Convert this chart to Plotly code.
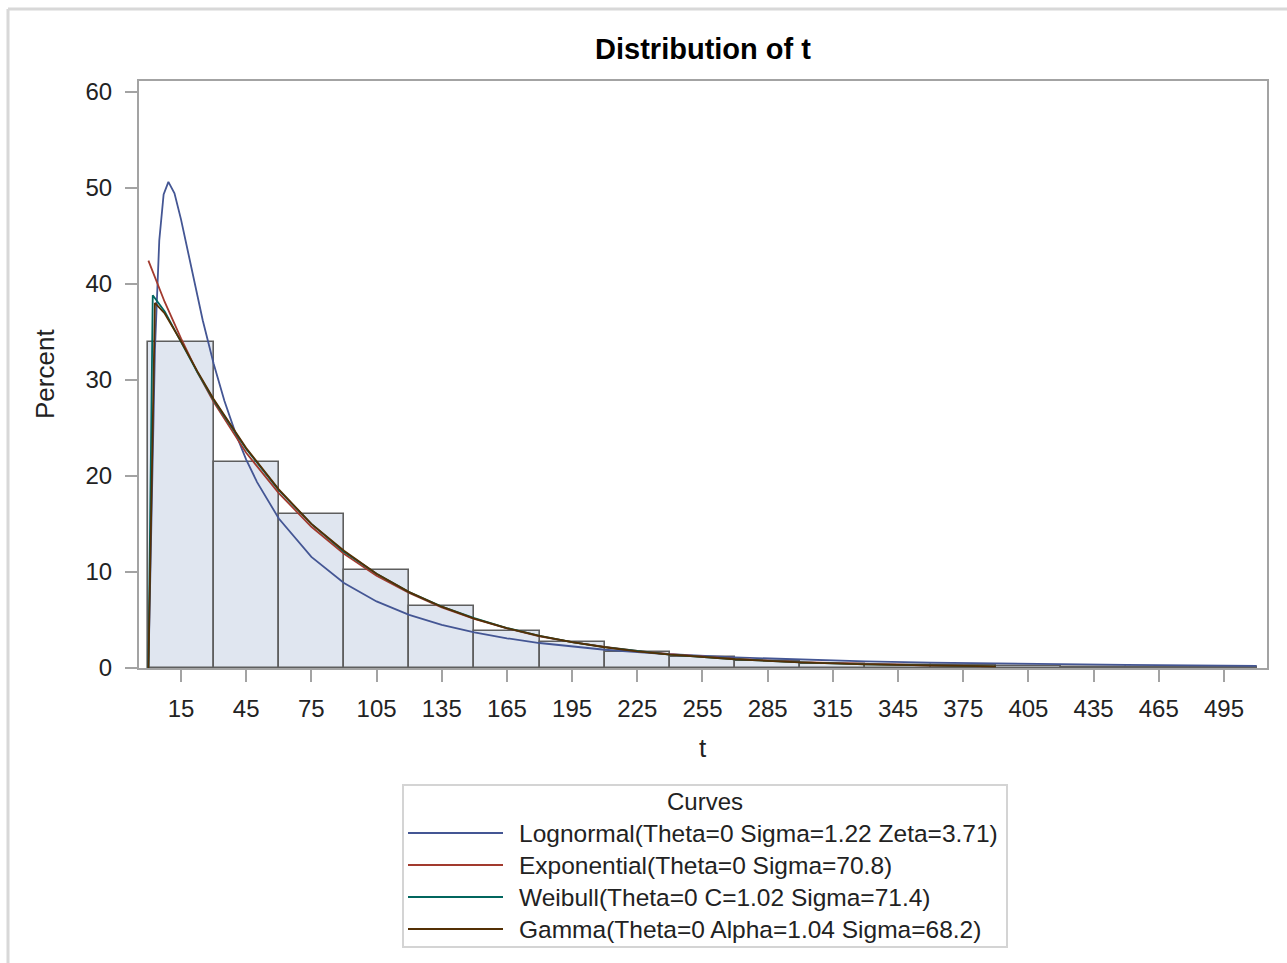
import plotly.graph_objects as go

# ---------------- data ----------------
bin_mid = [15, 45, 75, 105, 135, 165, 195, 225, 255, 285, 315, 345, 375, 405, 435, 465, 495]
bin_pct = [33.9, 21.4, 16.0, 10.2, 6.5, 3.8, 2.7, 1.66, 1.14, 0.76, 0.42, 0.35, 0.30, 0.25, 0.15, 0.10, 0.10]

logn_t = [0, 3, 5, 7, 9.2, 12, 15, 20, 25, 30, 35, 40, 45, 50, 60, 75, 90, 105, 120, 135, 150, 165, 180,
          210, 240, 270, 300, 330, 360, 390, 420, 450, 480, 510]
logn_pct = [0, 33.1, 44.5, 49.3, 50.6, 49.4, 46.7, 41.3, 36.2, 31.7, 27.8, 24.5, 21.7, 19.35, 15.56, 11.56,
            8.84, 6.93, 5.54, 4.50, 3.70, 3.09, 2.60, 1.90, 1.43, 1.10, 0.86, 0.69, 0.56, 0.46, 0.38, 0.32,
            0.27, 0.23]

expo_t = [0, 7.5, 15, 22.5, 30, 45, 60, 75, 90, 105, 120, 135, 150, 165, 180, 195, 210, 225, 240, 270,
          300, 330, 360, 390]
expo_pct = [42.4, 38.1, 34.3, 30.8, 27.7, 22.4, 18.2, 14.7, 11.9, 9.6, 7.8, 6.30, 5.1, 4.12, 3.3, 2.70,
            2.2, 1.77, 1.43, 0.94, 0.61, 0.40, 0.26, 0.17]

weib_t = [0, 2, 7.5, 15, 22.5, 30, 45, 60, 75, 90, 105, 120, 135, 150, 165, 180, 195, 210, 225, 240, 270,
          300, 330, 360, 390]
weib_pct = [0, 38.8, 37.1, 33.9, 30.8, 27.9, 22.8, 18.5, 15.0, 12.1, 9.8, 7.9, 6.39, 5.2, 4.16, 3.35,
            2.69, 2.17, 1.75, 1.40, 0.91, 0.58, 0.38, 0.24, 0.16]

gamm_t = [0, 3, 7.5, 15, 22.5, 30, 45, 60, 75, 90, 105, 120, 135, 150, 165, 180, 195, 210, 225, 240, 270,
          300, 330, 360, 390]
gamm_pct = [0, 38.0, 36.9, 34.0, 30.9, 28.0, 22.9, 18.6, 15.0, 12.2, 9.8, 7.9, 6.38, 5.15, 4.15, 3.34,
            2.69, 2.16, 1.74, 1.40, 0.91, 0.59, 0.38, 0.25, 0.16]

curve_names = ["Lognormal(Theta=0 Sigma=1.22 Zeta=3.71)",
               "Exponential(Theta=0 Sigma=70.8)",
               "Weibull(Theta=0 C=1.02 Sigma=71.4)",
               "Gamma(Theta=0 Alpha=1.04 Sigma=68.2)"]
curve_colors = ["#445694", "#A23A2E", "#01665E", "#543005"]

x_ticks = list(range(15, 496, 30))
y_ticks = [0, 10, 20, 30, 40, 50, 60]

# ---------------- layout geometry (pixels) ----------------
W, H = 1287, 963
L, R, T, B = 139, 1267, 81, 668


def px(x, y):
    return (x - L) / (R - L), (B - y) / (B - T)


FONT = "Arial, Liberation Sans, sans-serif"
AX = "#A3A3A3"

fig = go.Figure()
fig.add_trace(go.Bar(x=bin_mid, y=bin_pct, width=30,
                     marker=dict(color="#E0E6F0", line=dict(color="#5E5E5E", width=1.6)),
                     showlegend=False, hoverinfo="x+y"))

series = [(logn_t, logn_pct), (expo_t, expo_pct), (weib_t, weib_pct), (gamm_t, gamm_pct)]
for (tx, ty), name, col in zip(series, curve_names, curve_colors):
    fig.add_trace(go.Scatter(x=tx, y=ty, mode="lines", name=name,
                             line=dict(color=col, width=1.8), showlegend=False))

shapes = []
annots = []

# outer border
x0, y0 = px(8, 9)
x1, y1 = px(1290, 9)
shapes.append(dict(type="line", xref="paper", yref="paper", x0=x0, y0=y0, x1=x1, y1=y1,
                   line=dict(color="#D8D8D8", width=3)))
x1, y1 = px(8, 970)
shapes.append(dict(type="line", xref="paper", yref="paper", x0=x0, y0=y0, x1=x1, y1=y1,
                   line=dict(color="#D8D8D8", width=3)))

# legend box
bx0, by0 = px(403, 785)
bx1, by1 = px(1007, 947)
shapes.append(dict(type="rect", xref="paper", yref="paper", x0=bx0, y0=by0, x1=bx1, y1=by1,
                   line=dict(color="#D4D4D4", width=2), fillcolor="rgba(0,0,0,0)"))
tx_, ty_ = px(705, 801)
annots.append(dict(text="Curves", x=tx_, y=ty_, xref="paper", yref="paper", showarrow=False,
                   xanchor="center", yanchor="middle", font=dict(family=FONT, size=24, color="#222")))
row_y = [833, 865, 897, 929]
for ry, name, col in zip(row_y, curve_names, curve_colors):
    lx0, ly = px(408, ry)
    lx1, _ = px(503, ry)
    shapes.append(dict(type="line", xref="paper", yref="paper", x0=lx0, y0=ly, x1=lx1, y1=ly,
                       line=dict(color=col, width=2)))
    ax_, ay_ = px(517, ry)
    annots.append(dict(text=name, x=ax_, y=ay_, xref="paper", yref="paper", showarrow=False,
                       xanchor="left", yanchor="middle", font=dict(family=FONT, size=24.5, color="#222")))

# axis titles
ax_, ay_ = px(703, 748)
annots.append(dict(text="t", x=ax_, y=ay_, xref="paper", yref="paper", showarrow=False,
                   xanchor="center", yanchor="middle", font=dict(family=FONT, size=26, color="#222")))
ax_, ay_ = px(45, 374)
annots.append(dict(text="Percent", x=ax_, y=ay_, xref="paper", yref="paper", showarrow=False,
                   textangle=-90, xanchor="center", yanchor="middle",
                   font=dict(family=FONT, size=26, color="#222")))

fig.update_layout(
    width=W, height=H,
    margin=dict(l=L, r=W - R, t=T, b=H - B, pad=0),
    paper_bgcolor="white", plot_bgcolor="white",
    title=dict(text="<b>Distribution of t</b>", x=(L + R) / 2 / W, xanchor="center",
               y=1 - 49 / H, yanchor="middle", yref="container",
               font=dict(family=FONT, size=29, color="#000")),
    shapes=shapes, annotations=annots,
    bargap=0,
)
fig.update_xaxes(range=[-4.33, 514.8], tickvals=x_ticks, ticktext=[str(v) for v in x_ticks],
                 showgrid=False, zeroline=False, showline=True, mirror=True, linecolor=AX, linewidth=2,
                 ticks="outside", ticklen=12, tickwidth=2, tickcolor=AX,
                 tickfont=dict(family=FONT, size=24, color="#222"), ticklabelstandoff=6)
fig.update_yaxes(range=[0, 61.1], tickvals=y_ticks, ticktext=[str(v) for v in y_ticks],
                 showgrid=False, zeroline=False, showline=True, mirror=True, linecolor=AX, linewidth=2,
                 ticks="outside", ticklen=12, tickwidth=2, tickcolor=AX,
                 tickfont=dict(family=FONT, size=24, color="#222"), ticklabelstandoff=8)

fig.write_html("out.html")
